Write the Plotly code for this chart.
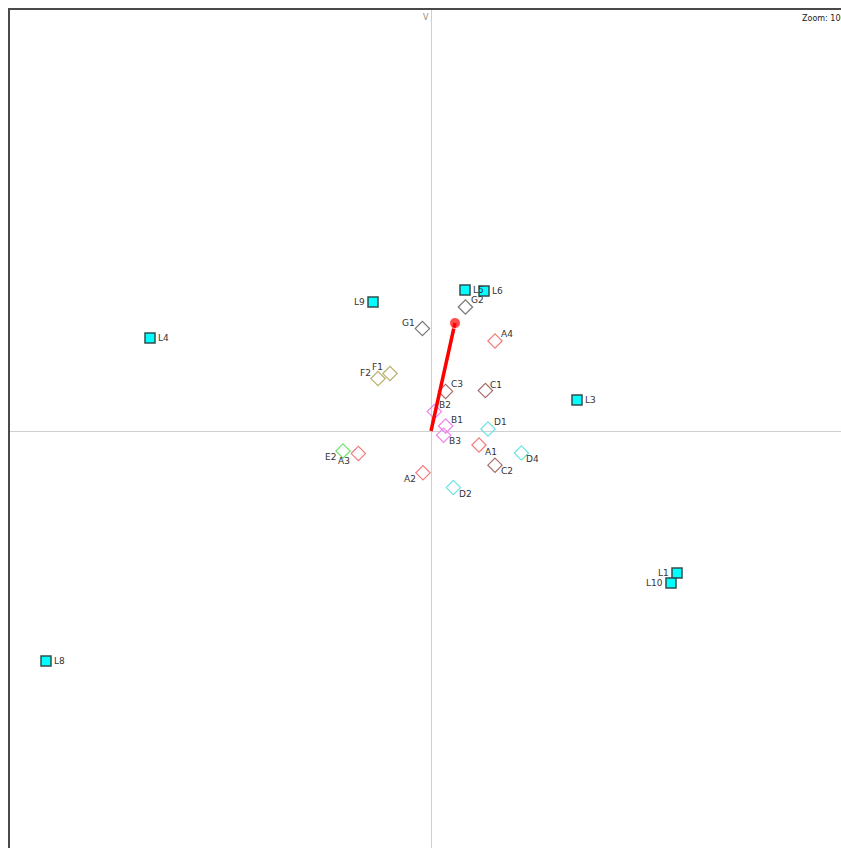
import plotly.graph_objects as go

# ---- data (arbitrary map units, origin at centre) ----
level_names = ["L5", "L6", "L9", "L4", "L3", "L1", "L10", "L8"]
level_x = [0.17, 0.265, -0.29, -1.405, 0.73, 1.23, 1.20, -1.925]
level_y = [0.705, 0.70, 0.645, 0.465, 0.155, -0.71, -0.76, -1.15]

cat_names = ["G2", "G1", "A4", "F1", "F2", "C3", "C1", "B2", "B1", "D1",
             "B3", "A1", "D4", "C2", "A2", "D2", "E2", "A3"]
cat_x = [0.172, -0.043, 0.32, -0.205, -0.265, 0.073, 0.272, 0.017, 0.073, 0.285,
         0.063, 0.24, 0.452, 0.32, -0.04, 0.112, -0.44, -0.363]
cat_y = [0.62, 0.512, 0.45, 0.287, 0.262, 0.198, 0.202, 0.097, 0.025, 0.01,
         -0.021, -0.07, -0.11, -0.171, -0.209, -0.283, -0.1, -0.113]
cat_group = ["G", "G", "A", "F", "F", "C", "C", "B", "B", "D",
             "B", "A", "D", "C", "A", "D", "E", "A"]

vector_x = [0.0, 0.12]
vector_y = [0.0, 0.54]

# ---- styles ----
group_colors = {"A": "#f27c7c", "B": "#ee82ee", "C": "#a86a6a", "D": "#6fe3e3",
                "E": "#6ee36e", "F": "#b8ae6a", "G": "#777777"}
# label offsets in pixels (dx, dy with dy positive = up)
cat_label_shift = [(12, 7), (-14, 6), (12, 7), (-13, 7), (-13, 6),
                   (11, 7), (11, 6), (11, 7), (11, 6), (12, 7),
                   (11, -6), (12, -7), (11, -6), (12, -6),
                   (-13, -6), (12, -6), (-13, -6), (-14, -7)]
level_label_side = ["right", "right", "left", "right", "right", "left", "left", "right"]

font_fam = "DejaVu Sans, Verdana, sans-serif"
label_font = dict(family=font_fam, size=9, color="#333333")
fig = go.Figure()

fig.add_trace(go.Scatter(
    x=cat_x, y=cat_y, mode="markers", text=cat_names,
    marker=dict(symbol="diamond-open", size=11,
                color=[group_colors[g] for g in cat_group],
                line=dict(width=1.2)),
    hoverinfo="text", showlegend=False))

fig.add_trace(go.Scatter(
    x=vector_x, y=vector_y, mode="lines+markers",
    line=dict(color="#ff0000", width=3.5),
    marker=dict(color="#ff0000", size=[0, 11]),
    hoverinfo="skip", showlegend=False))

fig.add_trace(go.Scatter(
    x=level_x, y=level_y, mode="markers", text=level_names,
    marker=dict(symbol="square", size=10, color="#00ffff",
                line=dict(color="#2f4f4f", width=1.5)),
    hoverinfo="text", showlegend=False))

annotations = []
for name, x, y, (dx, dy) in zip(cat_names, cat_x, cat_y, cat_label_shift):
    annotations.append(dict(x=x, y=y, text=name, showarrow=False, xanchor="center",
                            yanchor="middle", xshift=dx, yshift=dy, font=label_font))
for name, x, y, side in zip(level_names, level_x, level_y, level_label_side):
    if side == "right":
        annotations.append(dict(x=x, y=y, text=name, showarrow=False, xanchor="left",
                                yanchor="middle", xshift=6, font=label_font))
    else:
        annotations.append(dict(x=x, y=y, text=name, showarrow=False, xanchor="right",
                                yanchor="middle", xshift=-6, font=label_font))

# body margin removed by post_script; the figure fills the whole window
W, H = 841, 848
ml, mt = 10, 10
px_per_unit = 200.0
ox, oy = 431, 431   # origin position in the window
x_range = [(ml - ox) / px_per_unit, (W - ox) / px_per_unit]
y_range = [(oy - H) / px_per_unit, (oy - mt) / px_per_unit]

annotations += [
    dict(text="V", x=(426 - ml) / (W - ml), y=1, xref="paper", yref="paper",
         xanchor="center", yanchor="top", yshift=-1, showarrow=False,
         font=dict(family=font_fam, size=8, color="#9a8a6a")),
    dict(text="Zoom: 100", x=1, y=1, xref="paper", yref="paper",
         xanchor="left", yanchor="top", xshift=-41, yshift=-2, showarrow=False,
         font=dict(family=font_fam, size=8, color="#222222")),
]

fig.update_layout(
    width=W, height=H,
    margin=dict(l=ml, r=0, t=mt, b=0, pad=0, autoexpand=False),
    paper_bgcolor="white", plot_bgcolor="white",
    hovermode=False,
    xaxis=dict(range=x_range, showgrid=False, zeroline=True, zerolinecolor="#cfcfcf",
               zerolinewidth=1, showticklabels=False, ticks="", showline=True,
               side="top", linecolor="#4a4a4a", linewidth=2, fixedrange=True,
               automargin=False),
    yaxis=dict(range=y_range, showgrid=False, zeroline=True, zerolinecolor="#cfcfcf",
               zerolinewidth=1, showticklabels=False, ticks="", showline=True,
               side="left", linecolor="#4a4a4a", linewidth=2, fixedrange=True,
               automargin=False),
    annotations=annotations,
)

fig.write_html("out.html",
               config={"displayModeBar": False},
               post_script="document.body.style.margin='0';"
                           "document.documentElement.style.overflow='hidden';"
                           "document.body.style.overflow='hidden';")
